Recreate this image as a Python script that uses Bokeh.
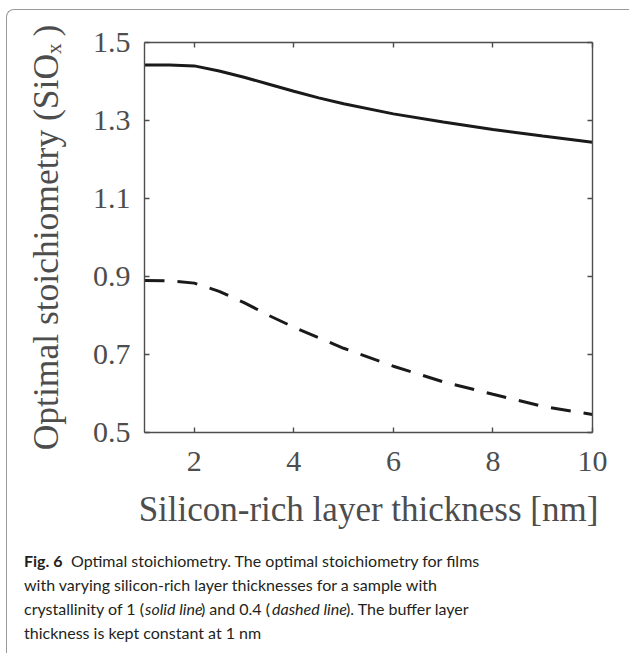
from bokeh.plotting import figure
from bokeh.layouts import column
from bokeh.models import LinearAxis, FixedTicker, Label, Range1d, CustomJSTickFormatter, Column
from bokeh.embed import file_html
from bokeh.resources import INLINE

# ---- data ----
thickness = [1, 1.5, 2, 2.5, 3, 3.5, 4, 4.5, 5, 6, 7, 8, 9, 10]
stoich_cryst_1 = [1.442, 1.442, 1.440, 1.427, 1.411, 1.393, 1.375, 1.358, 1.343, 1.317, 1.296, 1.277, 1.260, 1.244]
stoich_cryst_04 = [0.890, 0.889, 0.883, 0.862, 0.833, 0.800, 0.770, 0.743, 0.716, 0.670, 0.630, 0.598, 0.567, 0.546]
x_ticks = [2, 4, 6, 8, 10]
x_tick_labels = ["2", "4", "6", "8", "10"]
y_ticks = [0.5, 0.7, 0.9, 1.1, 1.3, 1.5]
y_tick_labels = ["0.5", "0.7", "0.9", "1.1", "1.3", "1.5"]
x_title = "Silicon-rich layer thickness [nm]"
y_title = "Optimal stoichiometry (SiO\u2093\u2009)"
caption_lines = [
    [("Fig. 6", "bold"), ("Optimal stoichiometry. The optimal stoichiometry for films", "normal")],
    [("with varying silicon-rich layer thicknesses for a sample with", "normal")],
    [("crystallinity of 1 (", "normal"), ("solid line", "italic"), (") and 0.4 (", "normal"),
     ("dashed line", "italic"), ("). The buffer layer", "normal")],
    [("thickness is kept constant at 1 nm", "normal")],
]

AX = "#4d4d4d"
SERIF = "Liberation Serif"

p = figure(width=622, height=530, x_range=Range1d(1, 10), y_range=Range1d(0.5, 1.5),
           output_backend="svg", toolbar_location=None,
           min_border_left=137, min_border_right=37, min_border_top=32, min_border_bottom=108)
p.outline_line_color = None
p.grid.visible = False
p.background_fill_color = "white"
p.border_fill_color = None

def style_axis(ax, ticks, labels=None):
    ax.ticker = FixedTicker(ticks=ticks)
    ax.axis_line_color = AX
    ax.axis_line_width = 1.4
    ax.major_tick_line_color = AX
    ax.major_tick_line_width = 1.4
    ax.major_tick_in = 5
    ax.major_tick_out = 0
    ax.minor_tick_line_color = None
    if labels is None:
        ax.formatter = CustomJSTickFormatter(code="return ''")
        ax.major_label_text_font_size = "1px"
    else:
        ax.major_label_overrides = {t: l for t, l in zip(ticks, labels)}
        ax.major_label_text_font = SERIF
        ax.major_label_text_font_size = "30px"
        ax.major_label_text_color = AX

xa = p.xaxis[0]
style_axis(xa, x_ticks, x_tick_labels)
xa.major_label_standoff = 19
xa.axis_label = x_title
xa.axis_label_text_font = SERIF
xa.axis_label_text_font_size = "35px"
xa.axis_label_text_font_style = "normal"
xa.axis_label_text_color = AX
xa.axis_label_standoff = 16

ya = p.yaxis[0]
style_axis(ya, y_ticks, y_tick_labels)
ya.major_label_standoff = 14
ya.axis_label = y_title
ya.axis_label_text_font = SERIF
ya.axis_label_text_font_size = "35.5px"
ya.axis_label_text_font_style = "normal"
ya.axis_label_text_color = AX
ya.axis_label_standoff = 24

top = LinearAxis()
style_axis(top, x_ticks)
p.add_layout(top, "above")
right = LinearAxis()
style_axis(right, y_ticks)
p.add_layout(right, "right")

p.line(thickness, stoich_cryst_1, line_color="#1a1a1a", line_width=3)
p.line(thickness, stoich_cryst_04, line_color="#1a1a1a", line_width=3, line_dash="20 13")

# ---- caption panel: a figure whose frame fills it, ranges in page pixels ----
cap = figure(width=622, height=113, x_range=Range1d(7.5, 629.5), y_range=Range1d(653.5, 540.5),
             output_backend="svg", toolbar_location=None,
             x_axis_location=None, y_axis_location=None,
             min_border_left=0, min_border_right=0, min_border_top=0, min_border_bottom=0)
cap.outline_line_color = None
cap.grid.visible = False
cap.background_fill_color = None
cap.border_fill_color = None

CAP_FONT = "Lato"
CAP_SIZE = "16px"
line_y = [560, 584, 608, 632]
seg_x = [[24, 71], [24], [24, 145, 201, 272, 346], [24]]
for segs, y, xs in zip(caption_lines, line_y, seg_x):
    for (txt, style), x in zip(segs, xs):
        cap.add_layout(Label(x=x, y=y, text=txt, text_font=CAP_FONT, text_font_size=CAP_SIZE,
                             text_font_style=style, text_color="#231f20",
                             text_baseline="alphabetic", text_align="left"))

cap_box = Column(children=[cap], width=622, height=113)

layout = column(p, cap_box, margin=(9, 0, 0, 6), spacing=0,
                styles={"border-top": "1.5px solid #9a9a9a", "border-left": "1.5px solid #9a9a9a",
                        "border-top-left-radius": "8px", "background": "transparent"})

open("out.html", "w").write(file_html(layout, INLINE))
